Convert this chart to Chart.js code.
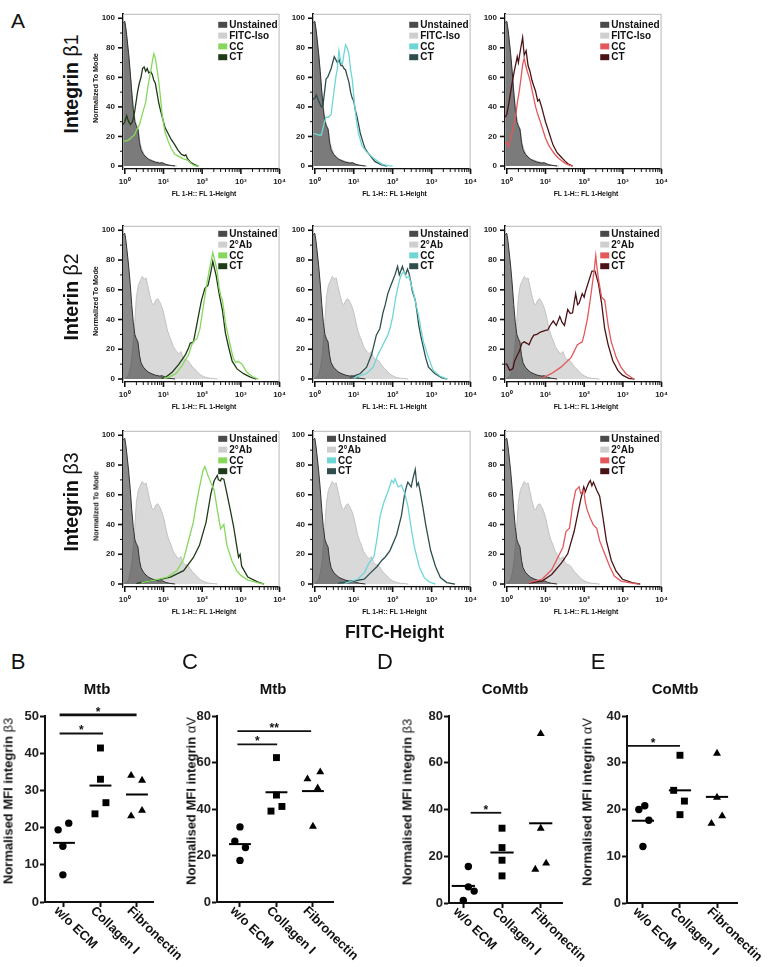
<!DOCTYPE html>
<html><head><meta charset="utf-8">
<script src="https://cdn.jsdelivr.net/npm/chart.js@4.4.1/dist/chart.umd.min.js"></script>
<style>
html,body{margin:0;padding:0;background:#fff;}
#page{position:relative;width:770px;height:967px;overflow:hidden;font-family:'Liberation Sans',Arial,sans-serif;color:#111;}
canvas{position:absolute;}
.t{position:absolute;white-space:nowrap;transform:translate(-50%,-50%);line-height:1;}
.r{transform:translate(-50%,-50%) rotate(-90deg);}
.thin{font-weight:normal;}
</style></head><body><div id="page"></div>
<script>
// ---------------- DATA: flow cytometry histograms ([log10 FL1, % of mode]) ----------------
const xTickExponents = [0, 1, 2, 3, 4];
const histRowLabels = ['Integrin β1', 'Interin β2', 'Integrin β3'];
const controlNames = ['FITC-Iso', '2°Ab', '2°Ab'];

const unstained = [[-0.04,97],[0,98],[0.03,93],[0.06,86],[0.1,76],[0.14,64],[0.18,50],[0.22,38],[0.26,30],[0.3,27],[0.34,25],[0.38,16],[0.42,11],[0.48,8],[0.55,6],[0.62,4.5],[0.7,3.5],[0.8,2.5],[0.9,2],[0.97,2.2],[1.05,1.2],[1.15,0.5],[1.3,0]];
const fitcIso = [[-0.04,95],[0,97],[0.05,88],[0.1,74],[0.15,60],[0.2,46],[0.25,34],[0.3,28],[0.35,25],[0.4,15],[0.45,11],[0.5,8],[0.6,5],[0.7,4],[0.8,3],[0.9,2.5],[1.0,2],[1.1,1],[1.2,0.5],[1.35,0]];
const secondaryAb = [[0,0.5],[0.05,1],[0.1,3],[0.15,8],[0.2,18],[0.25,35],[0.3,55],[0.35,63],[0.4,66],[0.45,69],[0.5,67],[0.55,68],[0.6,62],[0.65,56],[0.7,51],[0.75,50],[0.8,53],[0.85,54],[0.9,52],[0.95,49],[1.0,45],[1.05,39],[1.1,33],[1.15,29],[1.2,26],[1.25,22],[1.3,20],[1.35,18],[1.4,17],[1.45,18.5],[1.5,15],[1.55,13],[1.6,13],[1.65,12],[1.7,10],[1.75,8],[1.8,7],[1.85,5.5],[1.9,4],[1.95,3],[2.0,2.2],[2.1,1],[2.2,0.5],[2.4,0]];

const b1GreenCC = [[-0.04,17],[0,17],[0.05,17],[0.12,18],[0.2,20],[0.25,21],[0.3,24],[0.38,28],[0.45,35],[0.54,43],[0.6,54],[0.67,64],[0.72,72],[0.75,76],[0.79,73],[0.83,66],[0.875,58],[0.92,47],[0.96,36],[1.0,29],[1.04,23],[1.12,17],[1.2,12],[1.29,8],[1.4,6.5],[1.5,5],[1.62,4],[1.72,1.5],[1.8,0.3],[1.9,0]];
const b1GreenCT = [[-0.04,28],[0,30],[0.05,34],[0.1,30],[0.15,28],[0.2,30],[0.25,36],[0.29,43],[0.33,50],[0.375,56],[0.42,60],[0.46,66],[0.5,67],[0.54,64],[0.58,66],[0.62,63],[0.67,64],[0.71,62],[0.75,58],[0.79,56],[0.83,50],[0.875,43],[0.92,38],[0.96,34],[1.0,30],[1.04,26],[1.12,22],[1.2,18],[1.29,14.5],[1.37,11],[1.46,8],[1.54,7],[1.58,7.5],[1.62,5],[1.7,2.5],[1.8,1],[1.9,0]];
const b1CyanCC = [[-0.04,22],[0,22],[0.1,21],[0.17,21],[0.25,30],[0.29,33],[0.35,33],[0.42,35],[0.46,44],[0.5,52],[0.54,60],[0.58,66],[0.62,78],[0.67,70],[0.71,69],[0.75,76],[0.79,82],[0.83,80],[0.875,76],[0.92,65],[0.96,59],[1.0,48],[1.04,37],[1.08,29],[1.125,22],[1.21,14],[1.29,11],[1.33,9.6],[1.4,8],[1.46,6.4],[1.55,4.5],[1.625,3],[1.75,1],[1.9,0.3],[2.0,0]];
const b1CyanCT = [[-0.04,45],[0,46],[0.04,48],[0.1,44],[0.17,40],[0.21,41],[0.25,50],[0.29,59],[0.33,60],[0.375,63],[0.42,66],[0.46,70],[0.5,74],[0.54,72],[0.58,70],[0.625,72],[0.67,68],[0.71,68],[0.75,66],[0.79,65],[0.83,61],[0.875,57],[0.92,50],[0.96,46],[1.0,44],[1.04,38],[1.08,34],[1.125,28],[1.17,22],[1.25,15],[1.29,12],[1.375,8.5],[1.46,5.8],[1.55,3],[1.7,1],[1.85,0]];
const b1RedCC = [[-0.04,15],[0,16],[0.05,13],[0.1,18],[0.16,25],[0.2,30],[0.24,36],[0.28,44],[0.325,51],[0.37,60],[0.41,68.6],[0.45,73],[0.49,68],[0.53,64],[0.58,60],[0.62,55.6],[0.68,48],[0.74,40.5],[0.8,35],[0.87,29.7],[0.95,23],[1.0,19],[1.075,14.5],[1.16,11],[1.24,8],[1.33,5.5],[1.41,3.7],[1.5,2],[1.575,1],[1.7,0]];
const b1RedCT = [[-0.04,33],[0,35],[0.05,42],[0.1,50],[0.15,58],[0.2,65],[0.24,70],[0.27,74],[0.3,70],[0.35,78],[0.41,87],[0.45,75],[0.5,78],[0.55,68],[0.6,64],[0.65,58],[0.7,54],[0.74,51],[0.8,44],[0.84,45],[0.9,40],[0.95,35],[1.0,30],[1.05,26],[1.1,22],[1.16,17],[1.2,14],[1.3,9],[1.41,6],[1.5,3.5],[1.58,1.5],[1.7,0]];

const b2GreenCC = [[1.0,0.5],[1.15,1.5],[1.32,3.6],[1.48,9],[1.57,13],[1.65,16.4],[1.73,23],[1.8,26],[1.86,27],[1.94,33.5],[2.025,48],[2.1,61],[2.19,74],[2.275,85],[2.32,80],[2.36,76],[2.4,70],[2.44,61],[2.48,56],[2.525,52.7],[2.56,46],[2.6,37.7],[2.69,27],[2.75,20],[2.8,14.3],[2.87,11],[2.93,12],[3.03,10],[3.1,7],[3.15,4.7],[3.3,1.5],[3.45,0]];
const b2GreenCT = [[0.95,0.5],[1.07,1.5],[1.23,4.7],[1.4,10],[1.57,16.4],[1.65,21],[1.69,24],[1.775,25],[1.85,35],[1.9,42],[1.98,52.7],[2.07,61],[2.15,63],[2.21,70],[2.275,79],[2.32,74],[2.36,69.7],[2.44,57],[2.525,46],[2.6,31],[2.69,20.7],[2.775,12],[2.9,6.8],[3.07,3.6],[3.23,1.5],[3.4,0]];
const b2CyanCC = [[1.0,0.5],[1.08,1.5],[1.33,3.7],[1.5,8],[1.625,16.6],[1.75,23],[1.875,29.5],[1.94,35],[2.0,42],[2.08,55],[2.17,66],[2.22,70],[2.29,72.5],[2.35,68],[2.42,69],[2.48,63],[2.54,57.4],[2.6,50],[2.67,42],[2.73,33],[2.79,25],[2.92,14.4],[3.04,5.8],[3.21,2],[3.4,0]];
const b2CyanCT = [[0.9,0.5],[1.0,2],[1.17,3.7],[1.33,8],[1.46,16.6],[1.52,23],[1.58,29.5],[1.67,33.8],[1.75,44.5],[1.81,50],[1.875,57.4],[1.94,62],[2.0,66],[2.06,70],[2.125,75.7],[2.17,70],[2.25,75.7],[2.29,72],[2.33,70],[2.38,74],[2.42,71],[2.46,66],[2.5,59.6],[2.58,53],[2.625,45],[2.67,36],[2.73,28],[2.79,21],[2.85,14],[2.92,8],[3.08,3.7],[3.25,1],[3.4,0]];
const b2RedCC = [[0.9,0.5],[1.15,3.6],[1.4,8],[1.66,14.4],[1.825,23],[1.95,25],[2.0,30],[2.08,40],[2.15,52],[2.2,61.7],[2.26,73.5],[2.3,83],[2.33,75],[2.37,67],[2.45,55],[2.53,53],[2.62,36],[2.7,25],[2.83,14.4],[2.95,8],[3.08,3.6],[3.28,0]];
const b2RedCT = [[-0.04,10],[0,10],[0.075,5.8],[0.16,7],[0.2,12],[0.28,16.5],[0.325,18.7],[0.39,24],[0.45,25],[0.52,24],[0.575,23],[0.64,27],[0.7,29.5],[0.78,30],[0.87,31.6],[1.0,32.7],[1.06,33],[1.12,36],[1.2,39],[1.28,36],[1.37,42],[1.43,38],[1.49,36],[1.575,46.7],[1.64,44],[1.7,44.5],[1.78,57.4],[1.83,50],[1.87,51],[1.95,57.4],[2.0,55],[2.03,58.5],[2.12,66],[2.2,72.5],[2.28,72.5],[2.37,64],[2.45,51],[2.53,33.8],[2.62,23],[2.74,12.3],[2.87,5.8],[2.99,2.6],[3.15,0.5],[3.3,0]];

const b3GreenCC = [[0.43,1],[0.77,2.6],[1.1,4.7],[1.35,9],[1.52,16.6],[1.64,28.4],[1.77,41.4],[1.85,54],[1.93,65],[2.02,76],[2.07,79],[2.14,73.7],[2.225,68],[2.31,63],[2.39,50],[2.475,37],[2.56,40],[2.64,26],[2.77,15.5],[2.89,9],[3.0,5.8],[3.18,2.6],[3.43,0.9],[3.6,0]];
const b3GreenCT = [[0.3,0.5],[0.52,1.5],[0.77,2.6],[0.9,3],[1.18,4.7],[1.52,9],[1.77,17.7],[1.93,26],[2.1,41.4],[2.225,60.8],[2.31,69.4],[2.39,73],[2.42,70],[2.475,69.4],[2.5,71],[2.56,70.5],[2.64,60.8],[2.725,50],[2.81,39],[2.89,26],[2.94,18],[2.98,20],[3.02,12],[3.18,4.7],[3.43,1.5],[3.6,0]];
const b3CyanCC = [[0.77,0.5],[1.1,3.2],[1.27,7.5],[1.39,14],[1.52,18.2],[1.6,31],[1.68,46],[1.77,54.6],[1.89,63],[1.975,69.6],[2.02,68],[2.06,70.7],[2.14,65.3],[2.225,66.4],[2.31,61],[2.39,52.5],[2.475,37.5],[2.56,24.6],[2.68,11.8],[2.81,4.3],[2.93,1.5],[3.1,0]];
const b3CyanCT = [[0.6,0.6],[0.93,1.7],[1.27,3.2],[1.43,7.5],[1.6,11.8],[1.725,16],[1.81,18.2],[1.93,22.5],[2.1,33],[2.225,46],[2.31,61],[2.36,66],[2.39,68.5],[2.475,65.3],[2.53,72],[2.58,77],[2.62,66],[2.66,68],[2.7,63],[2.77,52.5],[2.85,39.6],[2.975,22.5],[3.1,11.8],[3.225,4.3],[3.39,1],[3.6,0]];
const b3RedCC = [[0.575,1],[0.91,3.2],[1.16,9.6],[1.325,18.2],[1.45,24.6],[1.53,35.3],[1.62,37.5],[1.7,52.5],[1.78,63],[1.87,65.3],[1.91,61],[1.99,63],[2.03,55],[2.075,50],[2.16,44],[2.24,39.6],[2.325,37.5],[2.4,29],[2.53,20.3],[2.66,11.8],[2.78,5.4],[2.95,2],[3.16,1],[3.4,0]];
const b3RedCT = [[0.575,0.6],[0.91,2],[1.16,6.4],[1.41,14],[1.575,20.3],[1.74,35.3],[1.825,46],[1.91,56.7],[1.99,65.3],[2.03,62],[2.075,65.3],[2.12,68],[2.16,69.6],[2.2,66],[2.24,68.5],[2.325,63],[2.4,59],[2.49,44],[2.575,29],[2.7,16],[2.825,8.6],[2.99,3.2],[3.24,1],[3.45,0]];

// ---------------- DATA: scatter panels B–E ----------------
const categories = ['w/o ECM', 'Collagen I', 'Fibronectin'];
const bWithoutEcm = [19.4, 21.2, 15.0, 7.3];
const bCollagen   = [41.4, 33.0, 26.7, 23.7];
const bFibronectin= [34.0, 32.7, 24.6, 23.1];
const bMeans = [15.9, 31.3, 28.9];
const cWithoutEcm = [32.3, 26.1, 23.4, 17.9];
const cCollagen   = [62.1, 46.0, 41.1, 39.1];
const cFibronectin= [55.9, 52.9, 49.0, 32.5];
const cMeans = [24.9, 47.2, 47.7];
const dWithoutEcm = [15.6, 6.9, 5.1, 1.1];
const dCollagen   = [32.0, 23.7, 18.3, 11.6];
const dFibronectin= [72.4, 31.9, 17.0, 14.4];
const dMeans = [7.3, 21.6, 34.1];
const eWithoutEcm = [20.0, 20.8, 17.7, 12.1];
const eCollagen   = [31.6, 24.1, 21.8, 18.9];
const eFibronectin= [32.0, 22.6, 18.6, 17.0];
const eMeans = [17.6, 24.1, 22.7];
const bSig = [{from:1, to:2, y:45.3, label:'*'}, {from:1, to:3, y:50.3, label:'*'}];
const cSig = [{from:1, to:2, y:67.8, label:'*'}, {from:1, to:3, y:73.5, label:'**'}];
const dSig = [{from:1, to:2, y:38.6, label:'*'}];
const eSig = [{from:1, to:2, y:33.6, label:'*'}];

// ---------------- LAYOUT / STYLE ----------------
const FONT = "'Liberation Sans', Arial, sans-serif";
const page = document.getElementById('page');
const colX = [[123,285],[313,476],[505,667]];
const rowY = [[7,169],[219,382],[424,587]];
const palettes = [
  {cc:'#86d85c', ct:'#1f3a18'},
  {cc:'#6fd6d6', ct:'#2e4e4e'},
  {cc:'#e2585b', ct:'#4a1215'}
];
const histCurves = [
  [[b1GreenCC,b1GreenCT],[b1CyanCC,b1CyanCT],[b1RedCC,b1RedCT]],
  [[b2GreenCC,b2GreenCT],[b2CyanCC,b2CyanCT],[b2RedCC,b2RedCT]],
  [[b3GreenCC,b3GreenCT],[b3CyanCC,b3CyanCT],[b3RedCC,b3RedCT]]
];
const controls = [fitcIso, secondaryAb, secondaryAb];
const sup = {0:'⁰',1:'¹',2:'²',3:'³',4:'⁴'};

function addText(html, x, y, css, rot) {
  const d = document.createElement('div');
  d.className = 't' + (rot ? ' r' : '');
  d.innerHTML = html;
  d.style.left = x + 'px'; d.style.top = y + 'px';
  d.style.cssText += css;
  page.appendChild(d);
  return d;
}
function makeCanvas(p, m) {
  const c = document.createElement('canvas');
  const W = p.r - p.l + m.left + m.right, H = p.b - p.t + m.top + m.bottom;
  c.width = W; c.height = H;
  c.style.left = (p.l - m.left) + 'px'; c.style.top = (p.t - m.top) + 'px';
  c.style.width = W + 'px'; c.style.height = H + 'px';
  page.appendChild(c);
  return c;
}
const toXY = arr => arr.map(([e, y]) => ({x: Math.pow(10, e), y}));
const isPow10 = v => Math.abs(Math.log10(v) - Math.round(Math.log10(v))) < 1e-9;

function histPlugin(legendSide, legendOffset) {
  return {
    id: 'histDecor',
    beforeDatasetsDraw(chart) {
      const {ctx, chartArea: a} = chart;
      ctx.save(); ctx.strokeStyle = '#b8b8b8'; ctx.lineWidth = 1;
      ctx.strokeRect(a.left + 0.5, a.top + 0.5, a.right - a.left - 1, a.bottom - a.top);
      ctx.restore();
    },
    afterDraw(chart) {
      const {ctx, chartArea: a, scales: {x, y}} = chart;
      ctx.save(); ctx.strokeStyle = '#111';
      x.ticks.forEach(t => {
        const px = x.getPixelForValue(t.value), maj = isPow10(t.value);
        ctx.lineWidth = maj ? 1.6 : 1;
        ctx.beginPath(); ctx.moveTo(px, a.bottom); ctx.lineTo(px, a.bottom + (maj ? 5 : 3)); ctx.stroke();
      });
      y.ticks.forEach(t => {
        const py = y.getPixelForValue(t.value), maj = t.value % 20 === 0;
        ctx.lineWidth = maj ? 1.6 : 1;
        ctx.beginPath(); ctx.moveTo(a.left, py); ctx.lineTo(a.left - (maj ? 5 : 3), py); ctx.stroke();
      });
      // legend inside plot
      ctx.font = 'bold 10px ' + FONT; ctx.textBaseline = 'middle';
      const ds = chart.data.datasets;
      const maxW = Math.max(...ds.map(d => ctx.measureText(d.label).width));
      const textX = legendSide === 'left' ? a.left + 25 : a.right - 2 - maxW;
      ds.forEach((d, i) => {
        const cy = a.top + legendOffset + i * 10.8;
        ctx.fillStyle = d.legendColor; ctx.fillRect(textX - 11, cy - 3, 9, 6);
        ctx.fillStyle = '#111'; ctx.fillText(d.label, textX, cy + 0.5);
      });
      ctx.restore();
    }
  };
}

// ---------------- Panel A histograms ----------------
const hm = {left: 30, right: 9, top: 6, bottom: 24};
for (let r = 0; r < 3; r++) {
  for (let c = 0; c < 3; c++) {
    const p = {l: colX[c][0], r: colX[c][1], t: rowY[r][0], b: rowY[r][1]};
    const cv = makeCanvas(p, hm);
    const pal = palettes[c];
    const [cc, ct] = histCurves[r][c];
    const common = {pointRadius: 0, tension: 0};
    new Chart(cv, {
      type: 'line',
      data: {datasets: [
        {label: 'Unstained', data: toXY(unstained), borderColor: '#333', borderWidth: 1, backgroundColor: 'rgba(55,55,55,0.58)', fill: 'origin', order: 3, legendColor: '#4a4a4a', ...common},
        {label: controlNames[r], data: toXY(controls[r]), borderColor: '#c2c2c2', borderWidth: 1, backgroundColor: '#d9d9d9', fill: 'origin', order: 4, legendColor: '#cfcfcf', ...common},
        {label: 'CC', data: toXY(cc), borderColor: pal.cc, borderWidth: 1.3, fill: false, order: 1, legendColor: pal.cc, ...common},
        {label: 'CT', data: toXY(ct), borderColor: pal.ct, borderWidth: 1.3, fill: false, order: 2, legendColor: pal.ct, ...common}
      ]},
      options: {
        responsive: false, animation: false, devicePixelRatio: 1,
        layout: {padding: {top: hm.top, right: hm.right, left: 0, bottom: 0}},
        plugins: {legend: {display: false}, tooltip: {enabled: false}},
        scales: {
          x: {type: 'logarithmic', min: 0.9, max: 10000,
              afterFit: s => { s.height = hm.bottom; },
              afterBuildTicks: s => {
                const v = [];
                xTickExponents.forEach(e => { if (e < 4) { for (let m = 1; m < 10; m++) v.push(m * Math.pow(10, e)); } else v.push(Math.pow(10, e)); });
                s.ticks = v.map(value => ({value}));
              },
              grid: {display: false, drawTicks: false},
              border: {color: '#111', width: 2},
              ticks: {autoSkip: false, maxRotation: 0, minRotation: 0, padding: 8, color: '#222',
                      font: {size: 8, weight: 'bold', family: FONT},
                      callback: v => isPow10(v) ? '10' + sup[Math.round(Math.log10(v))] : ''}},
          y: {type: 'linear', min: -2, max: 103,
              afterFit: s => { s.width = hm.left; },
              afterBuildTicks: s => { const v = []; for (let k = 0; k <= 100; k += 5) v.push({value: k}); s.ticks = v; },
              grid: {display: false, drawTicks: false},
              border: {color: '#111', width: 2},
              ticks: {padding: 8, color: '#222', font: {size: 8, weight: 'bold', family: FONT},
                      callback: v => (v % 20 === 0 ? String(v) : '')}}
        }
      },
      plugins: [histPlugin(r === 2 && c === 1 ? 'left' : 'right', r === 0 ? 11 : 8)]
    });
    addText('FL 1-H:: FL 1-Height', (p.l + p.r) / 2, p.b + 25, 'font-size:6.8px;font-weight:bold;');
  }
  addText(histRowLabels[r].replace(/(β\d)/, '<span class="thin">$1</span>'), 72, (rowY[r][0] + rowY[r][1]) / 2 - 4, 'font-size:19.5px;font-weight:bold;', true);
  addText('Normalized To Mode', 96, (rowY[r][0] + rowY[r][1]) / 2, 'font-size:7.2px;font-weight:bold;', true);
}
addText('A', 18, 20, 'font-size:21px;');
addText('FITC-Height', 394.5, 633, 'font-size:17.5px;font-weight:bold;');

// ---------------- Panels B–E scatter ----------------
const scatterPanels = [
  {letter:'B', title:'Mtb',   yTitle:'Normalised MFI integrin <span class="thin">β3</span>', groups:[bWithoutEcm,bCollagen,bFibronectin], means:bMeans, sig:bSig, yMax:50, step:10,
   plot:{l:45,r:153,t:716,b:902}, xr:[0.48,3.44], jitter:[[-0.16,0.13,-0.03,-0.03],[0,0,0.15,-0.15],[-0.16,0.14,0.14,-0.16]], sigX:[[-0.12,0.07],[-0.12,-0.01]], letterPos:[18,662], titleX:97, yTitleX:8},
  {letter:'C', title:'Mtb',   yTitle:'Normalised MFI integrin <span class="thin">αV</span>', groups:[cWithoutEcm,cCollagen,cFibronectin], means:cMeans, sig:cSig, yMax:80, step:20,
   plot:{l:217,r:333,t:716,b:902}, xr:[0.37,3.55], jitter:[[0,-0.14,0.15,0],[0,0,0.15,-0.15],[0.2,-0.15,0.13,0]], sigX:[[-0.07,0.02],[-0.07,-0.05]], letterPos:[190,662], titleX:273, yTitleX:191},
  {letter:'D', title:'CoMtb', yTitle:'Normalised MFI integrin <span class="thin">β3</span>', groups:[dWithoutEcm,dCollagen,dFibronectin], means:dMeans, sig:dSig, yMax:80, step:20,
   plot:{l:449,r:562,t:716,b:903}, xr:[0.63,3.55], jitter:[[0.13,0.13,0.28,0],[0,0,0,0],[0,0,0.14,-0.14]], sigX:[[0.19,-0.02]], letterPos:[385,662], titleX:505, yTitleX:407},
  {letter:'E', title:'CoMtb', yTitle:'Normalised MFI integrin <span class="thin">αV</span>', groups:[eWithoutEcm,eCollagen,eFibronectin], means:eMeans, sig:eSig, yMax:40, step:10,
   plot:{l:627,r:737,t:716,b:903}, xr:[0.57,3.54], jitter:[[-0.11,0.05,0.16,0],[0,-0.17,0.12,0],[0,0,0.14,-0.15]], sigX:[[-0.45,0]], letterPos:[598,662], titleX:675, yTitleX:587}
];
const markerStyles = [{pointStyle:'circle', pointRadius:3.7}, {pointStyle:'rect', pointRadius:4.9}, {pointStyle:'triangle', pointRadius:4.6}];
const meanHalf = 0.3;

function scatterPlugin(panel) {
  return {
    id: 'scatterDecor',
    afterDraw(chart) {
      const {ctx, chartArea: a, scales: {x, y}} = chart;
      ctx.save();
      ctx.fillStyle = '#111';
      ctx.font = 'bold 13px ' + FONT;
      ctx.textAlign = 'left'; ctx.textBaseline = 'middle';
      categories.forEach((lab, i) => {
        const px = x.getPixelForValue(i + 1);
        ctx.save(); ctx.translate(px - 8, a.bottom + 7); ctx.rotate(44 * Math.PI / 180);
        ctx.fillText(lab, 0, 0); ctx.restore();
      });
      panel.sig.forEach((s, k) => {
        const off = panel.sigX[k];
        const x1 = x.getPixelForValue(s.from + off[0]), x2 = x.getPixelForValue(s.to + off[1]);
        const py = y.getPixelForValue(s.y);
        ctx.strokeStyle = '#111'; ctx.lineWidth = (panel.letter === 'B' && k === 1) ? 2.6 : 1.8;
        ctx.beginPath(); ctx.moveTo(x1, py); ctx.lineTo(x2, py); ctx.stroke();
        ctx.font = 'bold 12px ' + FONT; ctx.textAlign = 'center'; ctx.textBaseline = 'alphabetic';
        ctx.fillText(s.label, (x1 + x2) / 2, py + 1);
      });
      ctx.restore();
    }
  };
}

const sm = {left: 45, right: 45, top: 30, bottom: 64};
scatterPanels.forEach(P => {
  const cv = makeCanvas(P.plot, sm);
  const datasets = [];
  P.groups.forEach((vals, g) => {
    datasets.push({data: vals.map((v, k) => ({x: g + 1 + P.jitter[g][k], y: v})),
      backgroundColor: '#000', borderColor: '#000', borderWidth: 0, clip: false, showLine: false, ...markerStyles[g]});
  });
  P.means.forEach((m, g) => {
    datasets.push({data: [{x: g + 1 - meanHalf, y: m}, {x: g + 1 + meanHalf, y: m}], showLine: true,
      borderColor: '#000', borderWidth: 2, pointRadius: 0, fill: false});
  });
  new Chart(cv, {
    type: 'scatter',
    data: {datasets},
    options: {
      responsive: false, animation: false, devicePixelRatio: 1,
      layout: {padding: {top: sm.top, right: sm.right, left: 0, bottom: 0}},
      plugins: {legend: {display: false}, tooltip: {enabled: false}},
      scales: {
        x: {type: 'linear', min: P.xr[0], max: P.xr[1],
            afterFit: s => { s.height = sm.bottom; },
            afterBuildTicks: s => { s.ticks = categories.map((c, i) => ({value: i + 1})); },
            ticks: {display: false},
            grid: {display: true, drawOnChartArea: false, drawTicks: true, tickLength: 5, tickWidth: 2, tickColor: '#111'},
            border: {color: '#111', width: 2}},
        y: {type: 'linear', min: 0, max: P.yMax,
            afterFit: s => { s.width = sm.left; },
            ticks: {stepSize: P.step, padding: 1, color: '#222', font: {size: 13, weight: 'bold', family: FONT}},
            grid: {display: true, drawOnChartArea: false, drawTicks: true, tickLength: 5, tickWidth: 2, tickColor: '#111'},
            border: {color: '#111', width: 2}}
      }
    },
    plugins: [scatterPlugin(P)]
  });
  addText(P.letter, P.letterPos[0], P.letterPos[1], 'font-size:22px;');
  addText(P.title, P.titleX, 688, 'font-size:15px;font-weight:bold;');
  addText(P.yTitle, P.yTitleX, (P.plot.t + P.plot.b) / 2 - 8, 'font-size:13px;font-weight:bold;', true);
});
</script></body></html>
